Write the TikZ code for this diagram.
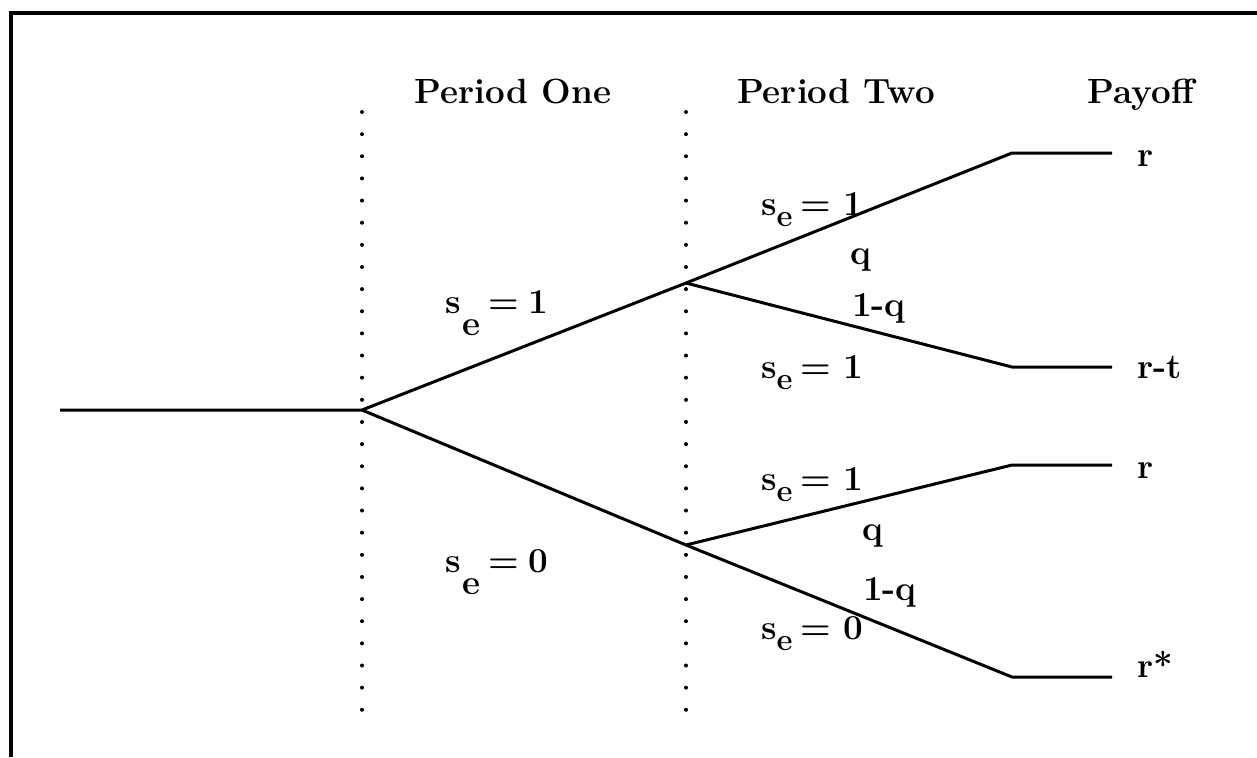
\documentclass[tikz,border=0pt]{standalone}
\begin{document}
\newcommand{\sedeep}[1]{s\hspace{0.8pt}\raisebox{-11pt}{e}\hspace{4pt}=\hspace{5pt}#1}
\newcommand{\sesub}[1]{s\raisebox{-5.5pt}{\fontsize{15.5}{18}\selectfont e}\hspace{4pt}=\hspace{6pt}#1}
\begin{tikzpicture}[x=0.5pt,y=-0.5pt,
  font=\fontsize{17.5}{20}\selectfont\bfseries,
  branch/.style={line width=1.5pt,line join=round},
  frame/.style={line width=2.2pt},
  dotline/.style={line width=2pt,line cap=round,dash pattern=on 0pt off 11.07pt},
  lab/.style={anchor=base west,inner sep=0pt,outer sep=0pt},
  head/.style={anchor=base,inner sep=0pt}]
\useasboundingbox (0,0) rectangle (1257,757);
% frame
\coordinate (fbl) at (11,757);
\coordinate (ftl) at (11,13);
\coordinate (ftr) at (1257,13);
\draw[frame] (fbl) -- (ftl) -- (ftr);
% dotted period separators
\coordinate (d1t) at (362,112); \coordinate (d1b) at (362,710);
\coordinate (d2t) at (686,112); \coordinate (d2b) at (686,710);
\draw[dotline] (d1t) -- (d1b);
\draw[dotline] (d2t) -- (d2b);
% tree
\coordinate (root) at (60,410);
\coordinate (A) at (362,410);
\coordinate (B) at (686,283);
\coordinate (C) at (686,545);
\coordinate (E1) at (1012,153); \coordinate (F1) at (1112,153);
\coordinate (E2) at (1012,367); \coordinate (F2) at (1112,367);
\coordinate (E3) at (1012,465); \coordinate (F3) at (1112,465);
\coordinate (E4) at (1012,677); \coordinate (F4) at (1112,677);
\draw[branch] (root) -- (A) -- (B) -- (E1) -- (F1);
\draw[branch] (A) -- (C) -- (E3) -- (F3);
\draw[branch] (B) -- (E2) -- (F2);
\draw[branch] (C) -- (E4) -- (F4);
% headings
\node[head] (h1) at (513,103) {Period One};
\node[head] (h2) at (836,103) {Period Two};
\node[head] (h3) at (1141,103) {Payoff};
% payoffs
\node[lab] (p1) at (1137,166) {r};
\node[lab] (p2) at (1137,378) {r-t};
\node[lab] (p3) at (1137,478) {r};
\node[lab] (p4) at (1137,677) {r*};
% period one labels
\node[lab] (l1) at (445,313) {\sedeep{1}};
\node[lab] (l2) at (445,572) {\sedeep{0}};
% period two labels
\node[lab] (m1) at (761,215) {\sesub{1}};
\node[lab] (m2) at (850,264) {q};
\node[lab] (m3) at (852,316) {1-q};
\node[lab] (m4) at (761,378) {\sesub{1}};
\node[lab] (n1) at (761,490) {\sesub{1}};
\node[lab] (n2) at (862,540) {q};
\node[lab] (n3) at (863,600) {1-q};
\node[lab] (n4) at (761,639) {\sesub{0}};
\end{tikzpicture}
\end{document}
